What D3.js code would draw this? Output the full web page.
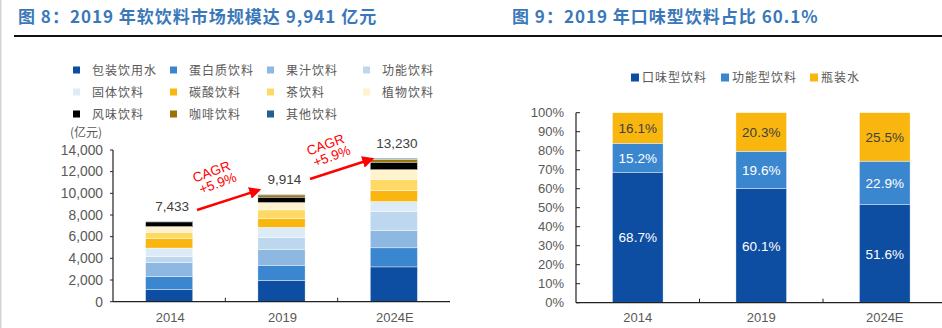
<!DOCTYPE html>
<html lang="zh">
<head>
<meta charset="UTF-8">
<title>软饮料市场规模</title>
<script src="https://cdn.jsdelivr.net/npm/d3@7/dist/d3.min.js"></script>
<style>
body { margin: 0; background: #fff; }
svg { display: block; }
text { font-family: "Liberation Sans", Arial, "Noto Sans CJK SC", sans-serif; }
.cn { font-family: "Noto Sans CJK SC", sans-serif; }
.title { font-weight: bold; font-size: 17px; fill: #3b78ba; letter-spacing: 1px; }
.tick-label { font-size: 13px; fill: #595959; }
.tick-label.big { font-size: 13.8px; }
.legend text { font-size: 12px; fill: #595959; letter-spacing: 1px; }
</style>
</head>
<body>
<script>
// 软饮料市场规模（亿元）
const years = ['2014', '2019', '2024E'];
const drinkTypes = ['包装饮用水', '蛋白质饮料', '果汁饮料', '功能饮料', '固体饮料', '碳酸饮料',
    '茶饮料', '植物饮料', '风味饮料', '咖啡饮料', '其他饮料'];
const drinkColors = ['#0d4ea3', '#3a87cf', '#8db8e2', '#bdd7ee', '#ddebf7', '#f8b60e',
    '#ffd966', '#fff2cc', '#000000', '#997300', '#255e91'];
const marketSize = [
    [1110, 1950, 3210],
    [1210, 1420, 1760],
    [1300, 1420, 1580],
    [530, 1140, 1760],
    [800, 930, 930],
    [860, 830, 1020],
    [600, 780, 1020],
    [520, 680, 900],
    [433, 500, 700],
    [40, 204, 270],
    [30, 60, 80]
];
const totals = [7433, 9914, 13230];
const leftTicks = [0, 2000, 4000, 6000, 8000, 10000, 12000, 14000];

// 口味型饮料占比（%）
const shareTypes = ['口味型饮料', '功能型饮料', '瓶装水'];
const shareColors = ['#0d4ea3', '#3a87cf', '#f8b60e'];
const shares = [
    [68.7, 60.1, 51.6],
    [15.2, 19.6, 22.9],
    [16.1, 20.3, 25.5]
];
const rightTicks = [0, 10, 20, 30, 40, 50, 60, 70, 80, 90, 100];

const width = 942, height = 328;
const svg = d3.select('body').append('svg')
    .attr('width', width)
    .attr('height', height);

svg.append('rect').attr('x', 0).attr('y', 0).attr('width', 1.5).attr('height', height).attr('fill', '#d4d4d4');

// titles
svg.append('text').attr('class', 'title cn').attr('x', 18).attr('y', 23)
    .text('图 8：2019 年软饮料市场规模达 9,941 亿元');
svg.append('text').attr('class', 'title cn').attr('x', 512).attr('y', 23)
    .text('图 9：2019 年口味型饮料占比 60.1%');
svg.append('line').attr('x1', 14).attr('x2', width).attr('y1', 36).attr('y2', 36)
    .attr('stroke', '#111').attr('stroke-width', 2);

// ---------- left: stacked market size ----------
const xL = d3.scaleBand().domain(years).range([113, 450]);
const yL = d3.scaleLinear().domain([0, 14000]).range([301.7, 150]);
const barWL = xL.bandwidth() * 0.42;

const rowsL = years.map((y, i) => {
    const r = { year: y };
    drinkTypes.forEach((k, j) => r[k] = marketSize[j][i]);
    return r;
});
const stackL = d3.stack().keys(drinkTypes)(rowsL);

const gL = svg.append('g');
gL.selectAll('.series')
    .data(stackL)
    .enter()
    .append('g')
    .attr('fill', (d, i) => drinkColors[i])
    .selectAll('rect')
    .data(d => d)
    .enter()
    .append('rect')
    .attr('x', d => xL(d.data.year) + (xL.bandwidth() - barWL) / 2)
    .attr('y', d => yL(d[1]))
    .attr('width', barWL)
    .attr('height', d => yL(d[0]) - yL(d[1]))
    .attr('stroke', '#fff')
    .attr('stroke-width', 0.4);

gL.selectAll('.total')
    .data(years)
    .enter()
    .append('text')
    .attr('x', d => xL(d) + xL.bandwidth() / 2 + 3)
    .attr('y', (d, i) => yL(totals[i]) - 10)
    .attr('text-anchor', 'middle')
    .attr('font-size', 13.5)
    .attr('fill', '#404040')
    .text((d, i) => d3.format(',')(totals[i]));

// axes
gL.append('line').attr('x1', 113).attr('x2', 113).attr('y1', yL(14000)).attr('y2', yL(0))
    .attr('stroke', '#222').attr('stroke-width', 1.2);
gL.append('line').attr('x1', 113).attr('x2', 450).attr('y1', yL(0)).attr('y2', yL(0))
    .attr('stroke', '#222').attr('stroke-width', 1.2);
gL.selectAll('.ytick')
    .data(leftTicks)
    .enter()
    .append('line')
    .attr('x1', 110).attr('x2', 113)
    .attr('y1', d => yL(d)).attr('y2', d => yL(d))
    .attr('stroke', '#222');
gL.selectAll('.ylab')
    .data(leftTicks)
    .enter()
    .append('text')
    .attr('class', 'tick-label big')
    .attr('x', 103)
    .attr('y', d => yL(d) + 4.8)
    .attr('text-anchor', 'end')
    .text(d => d3.format(',')(d));
gL.selectAll('.xtick')
    .data(years.slice(1))
    .enter()
    .append('line')
    .attr('x1', d => xL(d)).attr('x2', d => xL(d))
    .attr('y1', yL(0) - 4).attr('y2', yL(0))
    .attr('stroke', '#222');
gL.selectAll('.xlab')
    .data(years)
    .enter()
    .append('text')
    .attr('class', 'tick-label')
    .attr('x', d => xL(d) + xL.bandwidth() / 2 + 1)
    .attr('y', 322)
    .attr('text-anchor', 'middle')
    .text(d => d);

gL.append('text').attr('class', 'cn').attr('x', 70).attr('y', 137)
    .attr('font-size', 12).attr('fill', '#595959').text('(亿元)');

// legend
const legL = svg.append('g').attr('class', 'legend');
const legColX = [73, 170, 267, 363];
const legRowY = [70, 92, 114];
drinkTypes.forEach((k, i) => {
    const cx = legColX[i % 4], cy = legRowY[Math.floor(i / 4)];
    legL.append('rect').attr('x', cx).attr('y', cy - 3.5).attr('width', 7).attr('height', 7)
        .attr('fill', drinkColors[i]);
    legL.append('text').attr('class', 'cn').attr('x', cx + 19).attr('y', cy + 4.5).text(k);
});

// CAGR arrows
const defs = svg.append('defs');
defs.append('marker')
    .attr('id', 'arrow')
    .attr('viewBox', '0 0 10 10')
    .attr('refX', 8).attr('refY', 5)
    .attr('markerWidth', 5).attr('markerHeight', 5)
    .attr('orient', 'auto')
    .append('path')
    .attr('d', 'M0,0 L10,5 L0,10 Z')
    .attr('fill', '#ff0000');

const cagr = [
    { x1: 197, y1: 210, x2: 259, y2: 190, tx: 213, ty: 176 },
    { x1: 310, y1: 179, x2: 372, y2: 159, tx: 327, ty: 149 }
];
cagr.forEach(c => {
    svg.append('line')
        .attr('x1', c.x1).attr('y1', c.y1).attr('x2', c.x2).attr('y2', c.y2)
        .attr('stroke', '#ff0000').attr('stroke-width', 2.4)
        .attr('marker-end', 'url(#arrow)');
    const t = svg.append('g').attr('transform', `translate(${c.tx},${c.ty}) rotate(-20)`);
    t.append('text').attr('text-anchor', 'middle').attr('y', 0)
        .attr('font-size', 13.5).attr('fill', '#ff0000').text('CAGR');
    t.append('text').attr('text-anchor', 'middle').attr('x', 2).attr('y', 13)
        .attr('font-size', 13.5).attr('fill', '#ff0000').text('+5.9%');
});

// ---------- right: share stacked 100% ----------
const xR = d3.scaleBand().domain(years).range([576, 946.5]);
const yR = d3.scaleLinear().domain([0, 100]).range([302.7, 112.7]);
const barWR = xR.bandwidth() * 0.41;

const rowsR = years.map((y, i) => {
    const r = { year: y };
    shareTypes.forEach((k, j) => r[k] = shares[j][i]);
    return r;
});
const stackR = d3.stack().keys(shareTypes)(rowsR);

const gR = svg.append('g');
const seriesR = gR.selectAll('.series')
    .data(stackR)
    .enter()
    .append('g');
seriesR.selectAll('rect')
    .data((d, i) => d.map(v => ({ v, i })))
    .enter()
    .append('rect')
    .attr('x', d => xR(d.v.data.year) + (xR.bandwidth() - barWR) / 2)
    .attr('y', d => yR(d.v[1]))
    .attr('width', barWR)
    .attr('height', d => yR(d.v[0]) - yR(d.v[1]))
    .attr('fill', d => shareColors[d.i])
    .attr('stroke', '#fff')
    .attr('stroke-width', 0.4);
seriesR.selectAll('text')
    .data((d, i) => d.map(v => ({ v, i, key: d.key })))
    .enter()
    .append('text')
    .attr('x', d => xR(d.v.data.year) + xR.bandwidth() / 2)
    .attr('y', d => yR((d.v[0] + d.v[1]) / 2) + 5)
    .attr('text-anchor', 'middle')
    .attr('font-size', 13.5)
    .attr('fill', d => d.i === 2 ? '#404040' : '#fff')
    .text(d => d.v.data[d.key].toFixed(1) + '%');

gR.append('line').attr('x1', 576).attr('x2', 576).attr('y1', yR(100)).attr('y2', yR(0))
    .attr('stroke', '#222').attr('stroke-width', 1.2);
gR.append('line').attr('x1', 576).attr('x2', width).attr('y1', yR(0)).attr('y2', yR(0))
    .attr('stroke', '#222').attr('stroke-width', 1.2);
gR.selectAll('.ytick')
    .data(rightTicks)
    .enter()
    .append('line')
    .attr('x1', 576).attr('x2', 580)
    .attr('y1', d => yR(d)).attr('y2', d => yR(d))
    .attr('stroke', '#222');
gR.selectAll('.ylab')
    .data(rightTicks)
    .enter()
    .append('text')
    .attr('class', 'tick-label')
    .attr('x', 564)
    .attr('y', d => yR(d) + 4.5)
    .attr('text-anchor', 'end')
    .text(d => d + '%');
gR.selectAll('.xtick')
    .data(years.slice(1))
    .enter()
    .append('line')
    .attr('x1', d => xR(d)).attr('x2', d => xR(d))
    .attr('y1', yR(0) - 4).attr('y2', yR(0))
    .attr('stroke', '#222');
gR.selectAll('.xlab')
    .data(years)
    .enter()
    .append('text')
    .attr('class', 'tick-label')
    .attr('x', d => xR(d) + xR.bandwidth() / 2)
    .attr('y', 322)
    .attr('text-anchor', 'middle')
    .text(d => d);

// legend
const legR = svg.append('g').attr('class', 'legend');
const legRX = [631, 721, 810];
shareTypes.forEach((k, i) => {
    legR.append('rect').attr('x', legRX[i]).attr('y', 73.5).attr('width', 8).attr('height', 8)
        .attr('fill', shareColors[i]);
    legR.append('text').attr('class', 'cn').attr('x', legRX[i] + 11).attr('y', 82).text(k);
});
</script>
</body>
</html>
